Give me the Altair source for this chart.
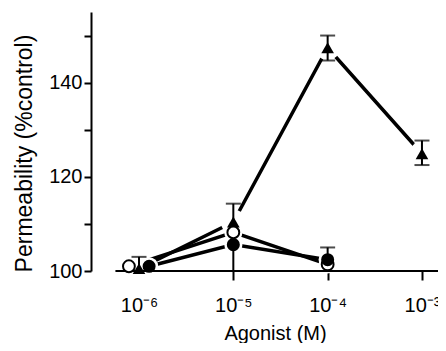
import altair as alt
import pandas as pd

# ---- data ----
x_ticks = [-6, -5, -4, -3]
x_tick_labels = ["10⁻⁶", "10⁻⁵", "10⁻⁴", "10⁻³"]
y_ticks = [100, 110, 120, 130, 140, 150]
y_tick_labels = [100, 120, 140]

tri_x = [-6.0, -5.0, -4.0, -3.0]
tri_y = [100.5, 110.4, 147.4, 124.9]

open_x = [-6.107, -5.0, -4.0]
open_y = [101.0, 108.2, 101.4]

fill_x = [-5.893, -5.0, -4.0]
fill_y = [101.0, 105.6, 102.4]

err_x = [-6.0, -5.0, -4.0, -3.0, -5.0, -4.0]
err_lo = [100.0, 110.4, 144.7, 122.5, 100.0, 102.4]
err_hi = [103.0, 114.3, 150.0, 127.7, 105.6, 105.0]

cap_x = [-6.0, -5.0, -4.0, -4.0, -3.0, -3.0, -4.0]
cap_y = [103.0, 114.3, 150.0, 144.7, 127.7, 122.5, 105.0]

axis_line_x = [-6.25]
axis_line_x2 = [-2.83]

FONT = "Liberation Sans"

tri = pd.DataFrame({"x": tri_x, "y": tri_y})
opn = pd.DataFrame({"x": open_x, "y": open_y})
fil = pd.DataFrame({"x": fill_x, "y": fill_y})
circ = pd.DataFrame({"x": open_x + fill_x, "y": open_y + fill_y})
err = pd.DataFrame({"x": err_x, "y": err_lo, "y2": err_hi})
caps = pd.DataFrame({"x": cap_x, "y": cap_y})
axl = pd.DataFrame({"x": axis_line_x, "x2": axis_line_x2, "y": [100]})

label_expr = " : ".join(
    f"datum.value == {v} ? '{t}'" for v, t in zip(x_ticks, x_tick_labels)
) + " : ''"
ylabel_expr = " : ".join(
    f"datum.value == {v} ? '{v}'" for v in y_tick_labels
) + " : ''"

xscale = alt.Scale(domain=[-6.509, -2.830], nice=False, zero=False)
yscale = alt.Scale(domain=[100, 155], nice=False, zero=False)

xaxis = alt.Axis(
    values=x_ticks, labelExpr=label_expr, domain=False, grid=False,
    tickSize=9, tickWidth=2, tickColor="black", labelFont=FONT,
    labelFontSize=20, labelColor="black", labelPadding=15,
    title="Agonist (M)", titleFont=FONT, titleFontSize=20,
    titleFontWeight="normal", titleColor="black", titleX=184, titleY=68,
    titleBaseline="alphabetic", titleAlign="center",
)
yaxis = alt.Axis(
    values=y_ticks, labelExpr=ylabel_expr, domain=True, domainWidth=2,
    domainColor="black", grid=False, tickSize=7, tickWidth=2,
    tickColor="black", labelFont=FONT, labelFontSize=20, labelColor="black",
    labelPadding=2, title="Permeability (%control)", titleFont=FONT,
    titleFontSize=23, titleFontWeight="normal", titleColor="black",
    titleX=-60, titleY=141, titleBaseline="alphabetic", titleAlign="center",
    titleAngle=270,
)


def X(field="x"):
    return alt.X(f"{field}:Q", scale=xscale, axis=xaxis)


def Y(field="y"):
    return alt.Y(f"{field}:Q", scale=yscale, axis=yaxis)


line_style = dict(color="black", strokeWidth=3.5, strokeCap="butt")

line_tri = alt.Chart(tri).mark_line(**line_style).encode(x=X(), y=Y())
line_opn = alt.Chart(opn).mark_line(**line_style).encode(x=X(), y=Y())
line_fil = alt.Chart(fil).mark_line(**line_style).encode(x=X(), y=Y())

# white halos around every marker, so the joining lines stop short of it
halo_tri = alt.Chart(tri).mark_circle(
    color="white", size=620, opacity=1
).encode(x=X(), y=Y())
halo_circ = alt.Chart(circ).mark_circle(
    color="white", size=330, opacity=1
).encode(x=X(), y=Y())

axis_line = alt.Chart(axl).mark_rule(color="black", strokeWidth=2).encode(
    x=X(), x2="x2:Q", y=Y()
)

bars = alt.Chart(err).mark_rule(color="black", strokeWidth=2).encode(
    x=X(), y=Y(), y2="y2:Q"
)
capm = alt.Chart(caps).mark_tick(
    color="black", thickness=2, size=15, orient="horizontal"
).encode(x=X(), y=Y())

tri_pts = alt.Chart(tri).mark_point(
    shape="triangle-up", filled=True, color="black", size=160, opacity=1
).encode(x=X(), y=Y())
open_pts = alt.Chart(opn).mark_point(
    shape="circle", filled=True, fill="white", stroke="black",
    strokeWidth=2, size=140, opacity=1
).encode(x=X(), y=Y())
fill_pts = alt.Chart(fil).mark_point(
    shape="circle", filled=True, color="black", size=170, opacity=1
).encode(x=X(), y=Y())

chart = (
    alt.layer(line_tri, line_opn, line_fil, halo_tri, halo_circ, axis_line,
              bars, capm, tri_pts, open_pts, fill_pts)
    .properties(
        width=347, height=259,
        autosize=alt.AutoSizeParams(type="none"),
        padding={"left": 83, "top": 4, "right": 0, "bottom": 72},
        background="white",
    )
    .configure_view(stroke=None)
)

chart.save("out.html", embed_options={"renderer": "svg", "actions": False})
